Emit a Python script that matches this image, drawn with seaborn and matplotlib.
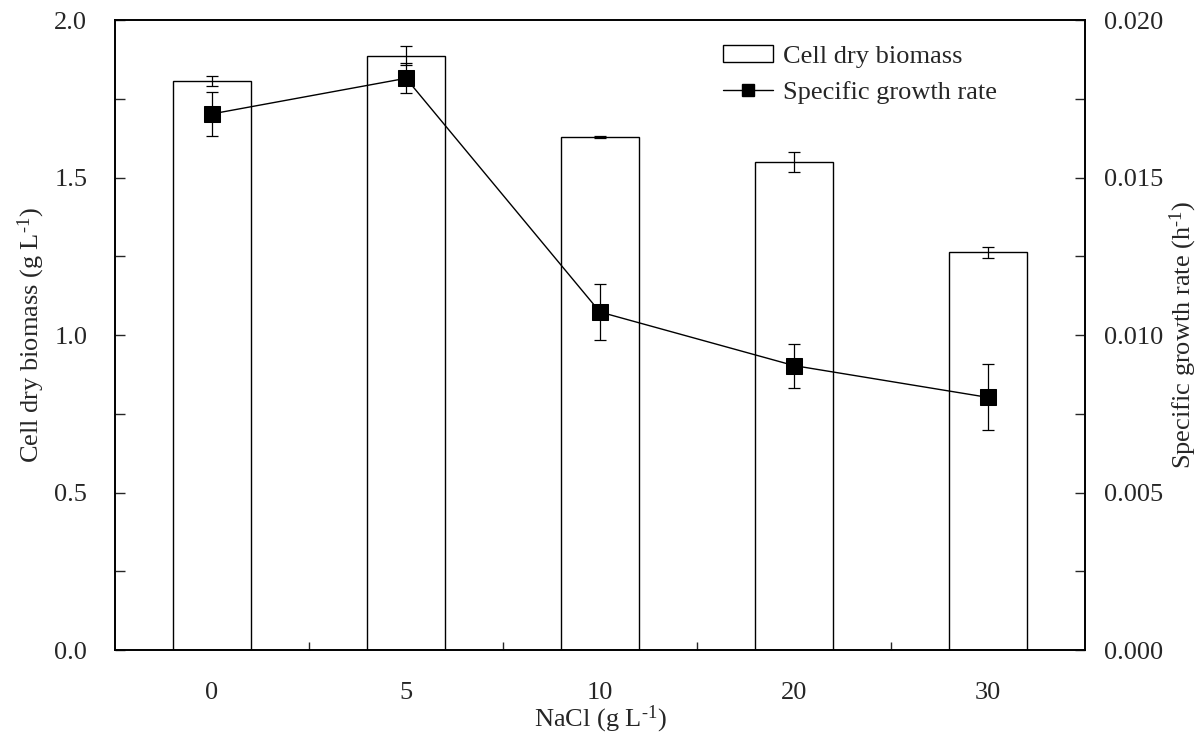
import numpy as np
import pandas as pd
import matplotlib
matplotlib.use("Agg")
import matplotlib.pyplot as plt
from matplotlib.patches import Patch
from matplotlib.lines import Line2D
from matplotlib.ticker import MultipleLocator, FixedLocator, FormatStrFormatter
import seaborn as sns

# values
nacl = ['0', '5', '10', '20', '30']
biomass = [1.806, 1.887, 1.629, 1.550, 1.262]
biomass_err = [0.015, 0.029, 0.003, 0.031, 0.019]
growth = [0.01702, 0.01815, 0.01073, 0.00903, 0.00802]
growth_err = [0.0007, 0.00047, 0.0009, 0.0007, 0.00105]

sns.set_style("white")
plt.rcParams['font.family'] = ['Liberation Serif', 'DejaVu Serif']
plt.rcParams['mathtext.fontset'] = 'custom'
plt.rcParams['mathtext.rm'] = 'Liberation Serif'
plt.rcParams['mathtext.it'] = 'Liberation Serif:italic'
plt.rcParams['font.size'] = 19

df = pd.DataFrame({'NaCl': nacl, 'biomass': biomass, 'b_err': biomass_err,
                   'growth': growth, 'g_err': growth_err})
pos = np.arange(len(nacl))
sup = '$^{\\mathrm{\u2010}1}$'

fig = plt.figure(figsize=(11.97, 7.36), dpi=100)
ax = fig.add_axes([0.0961, 0.1168, 0.8103, 0.856])

# bars
sns.barplot(data=df, x='NaCl', y='biomass', color='white', edgecolor='black',
            linewidth=1.0, width=0.4, errorbar=None, ax=ax)
for p in ax.patches:
    p.set_facecolor('white')
ax.errorbar(pos, df['biomass'], yerr=df['b_err'], fmt='none', ecolor='black',
            elinewidth=0.9, capsize=4.3, capthick=0.9, zorder=3)

ax.set_xlim(-0.5, 4.5)
ax.set_ylim(0, 2.0)
ax.yaxis.set_major_locator(MultipleLocator(0.5))
ax.yaxis.set_minor_locator(MultipleLocator(0.25))
ax.yaxis.set_major_formatter(FormatStrFormatter('%.1f'))
ax.xaxis.set_minor_locator(FixedLocator([0.5, 1.5, 2.5, 3.5]))
ax.tick_params(axis='y', which='both', direction='in', length=7, width=1, pad=20,
               left=True, right=False, labelsize=19)
ax.tick_params(axis='x', which='major', length=0, pad=23, labelsize=19)
ax.tick_params(axis='x', which='minor', direction='in', length=6, width=1, bottom=True)
ax.set_xlabel('NaCl (g L' + sup + ')', fontsize=19, labelpad=0)
ax.set_ylabel('Cell dry biomass (g L' + sup + ')', fontsize=19, labelpad=5)

# line on secondary axis
ax2 = ax.twinx()
sns.lineplot(x=pos, y=growth, color='black', linewidth=1.0, marker='s',
             markersize=11.5, markeredgecolor='black', ax=ax2, zorder=4)
ax2.errorbar(pos, growth, yerr=growth_err, fmt='none', ecolor='black',
             elinewidth=0.9, capsize=4.3, capthick=0.9, zorder=3)
ax2.set_ylim(0, 0.020)
ax2.yaxis.set_major_locator(MultipleLocator(0.005))
ax2.yaxis.set_minor_locator(MultipleLocator(0.0025))
ax2.yaxis.set_major_formatter(FormatStrFormatter('%.3f'))
ax2.tick_params(axis='y', which='both', direction='in', length=7, width=1, pad=14,
                right=True, labelsize=19)
ax2.set_ylabel('Specific growth rate (h' + sup + ')', fontsize=19,
               rotation=90, labelpad=3)
ax2.yaxis.set_label_position('right')

for a in (ax, ax2):
    for s in a.spines.values():
        s.set_linewidth(1.2)
        s.set_color('black')
        s.set_visible(True)

handles = [Patch(facecolor='white', edgecolor='black', linewidth=1.0),
           Line2D([], [], color='black', linewidth=1.0, marker='s', markersize=9)]
ax2.legend(handles, ['Cell dry biomass', 'Specific growth rate'],
           loc='upper left', bbox_to_anchor=(0.6265, 0.96), frameon=False,
           borderpad=0, borderaxespad=0, handlelength=1.9, handleheight=0.6,
           handletextpad=0.38, labelspacing=0.5, fontsize=19)

fig.savefig('out.png', dpi=100)
